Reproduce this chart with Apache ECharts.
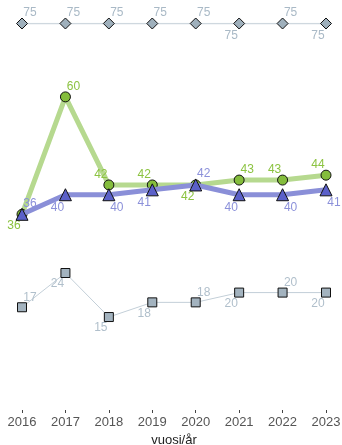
<!DOCTYPE html>
<html>
<head>
<meta charset="utf-8">
<script src="https://cdn.jsdelivr.net/npm/echarts@6/dist/echarts.min.js"></script>
<style>
html,body{margin:0;padding:0;background:#fff;}
#c{width:342px;height:445px;}
</style>
</head>
<body>
<div id="c"></div>
<script>
const years = ['2016','2017','2018','2019','2020','2021','2022','2023'];
const seriesDiamond = [75,75,75,75,75,75,75,75];
const seriesGreen = [36,60,42,42,42,43,43,44];
const seriesBlue = [36,40,40,41,42,40,40,41];
const seriesSquare = [17,24,15,18,18,20,20,20];
const axisName = 'vuosi/år';

// label placements (tr = top-right, tl = top-left, br = bottom-right, bl = bottom-left)
const placeDiamond = ['tr','tr','tr','tr','tr','bl','tr','bl'];
const placeGreen = ['bl','tr','tl','tl','bl','tr','tl','tl'];
const placeBlue = ['tr','bl','br','bl','tr','bl','br','br'];
const placeSquare = ['tr','bl','bl','bl','tr','bl','tr','bl'];

function withLabels(values, places, dx) {
  return values.map((v, i) => {
    const p = places[i];
    const top = p[0] === 't';
    return {
      value: v,
      label: {
        position: top ? 'top' : 'bottom',
        distance: 0,
        offset: [p[1] === 'r' ? dx : -dx, top ? 1.5 : 0]
      }
    };
  });
}

const font = 'Liberation Sans, Arial, sans-serif';
function mkSeries(name, values, places, opts) {
  return {
    name: name,
    type: 'line',
    data: withLabels(values, places, 8),
    symbol: opts.symbol,
    symbolSize: opts.size,
    z: opts.z,
    lineStyle: { color: opts.line, width: opts.width },
    itemStyle: { color: opts.fill, borderColor: '#111', borderWidth: 1 },
    label: { show: true, color: opts.labelColor, fontSize: 12, fontFamily: font },
    emphasis: { disabled: true },
    animation: false
  };
}

const chart = echarts.init(document.getElementById('c'), null, { renderer: 'canvas' });
chart.setOption({
  animation: false,
  grid: { left: 22, right: 16, top: 23.5, bottom: 35, containLabel: false, outerBoundsMode: 'none' },
  xAxis: {
    type: 'category',
    data: years,
    boundaryGap: false,
    axisLine: { show: false, onZero: false },
    axisTick: { show: true, length: 3, lineStyle: { color: '#444', width: 1 } },
    axisLabel: { color: '#555', fontSize: 13, fontFamily: font, margin: 6 },
    name: axisName,
    nameLocation: 'middle',
    nameGap: 17,
    nameTextStyle: { color: '#222', fontSize: 13, fontFamily: font },
    splitLine: { show: false }
  },
  yAxis: { type: 'value', min: -4, max: 75, show: false },
  series: [
    mkSeries('d', seriesDiamond, placeDiamond, { symbol: 'diamond', size: 11, line: '#cfd8df', width: 1.5, fill: '#9fb0bc', labelColor: '#a9b9c6', z: 2 }),
    mkSeries('s', seriesSquare, placeSquare, { symbol: 'rect', size: 9, line: '#c3cfd8', width: 1, fill: '#a3b3bf', labelColor: '#b0bfcb', z: 2 }),
    mkSeries('g', seriesGreen, placeGreen, { symbol: 'circle', size: 10, line: '#b6d98f', width: 5, fill: '#84bd3c', labelColor: '#8cc341', z: 3 }),
    mkSeries('b', seriesBlue, placeBlue, { symbol: 'triangle', size: 12, line: '#8a8fd8', width: 5, fill: '#5b60c9', labelColor: '#8c91da', z: 4 })
  ]
});
</script>
</body>
</html>
